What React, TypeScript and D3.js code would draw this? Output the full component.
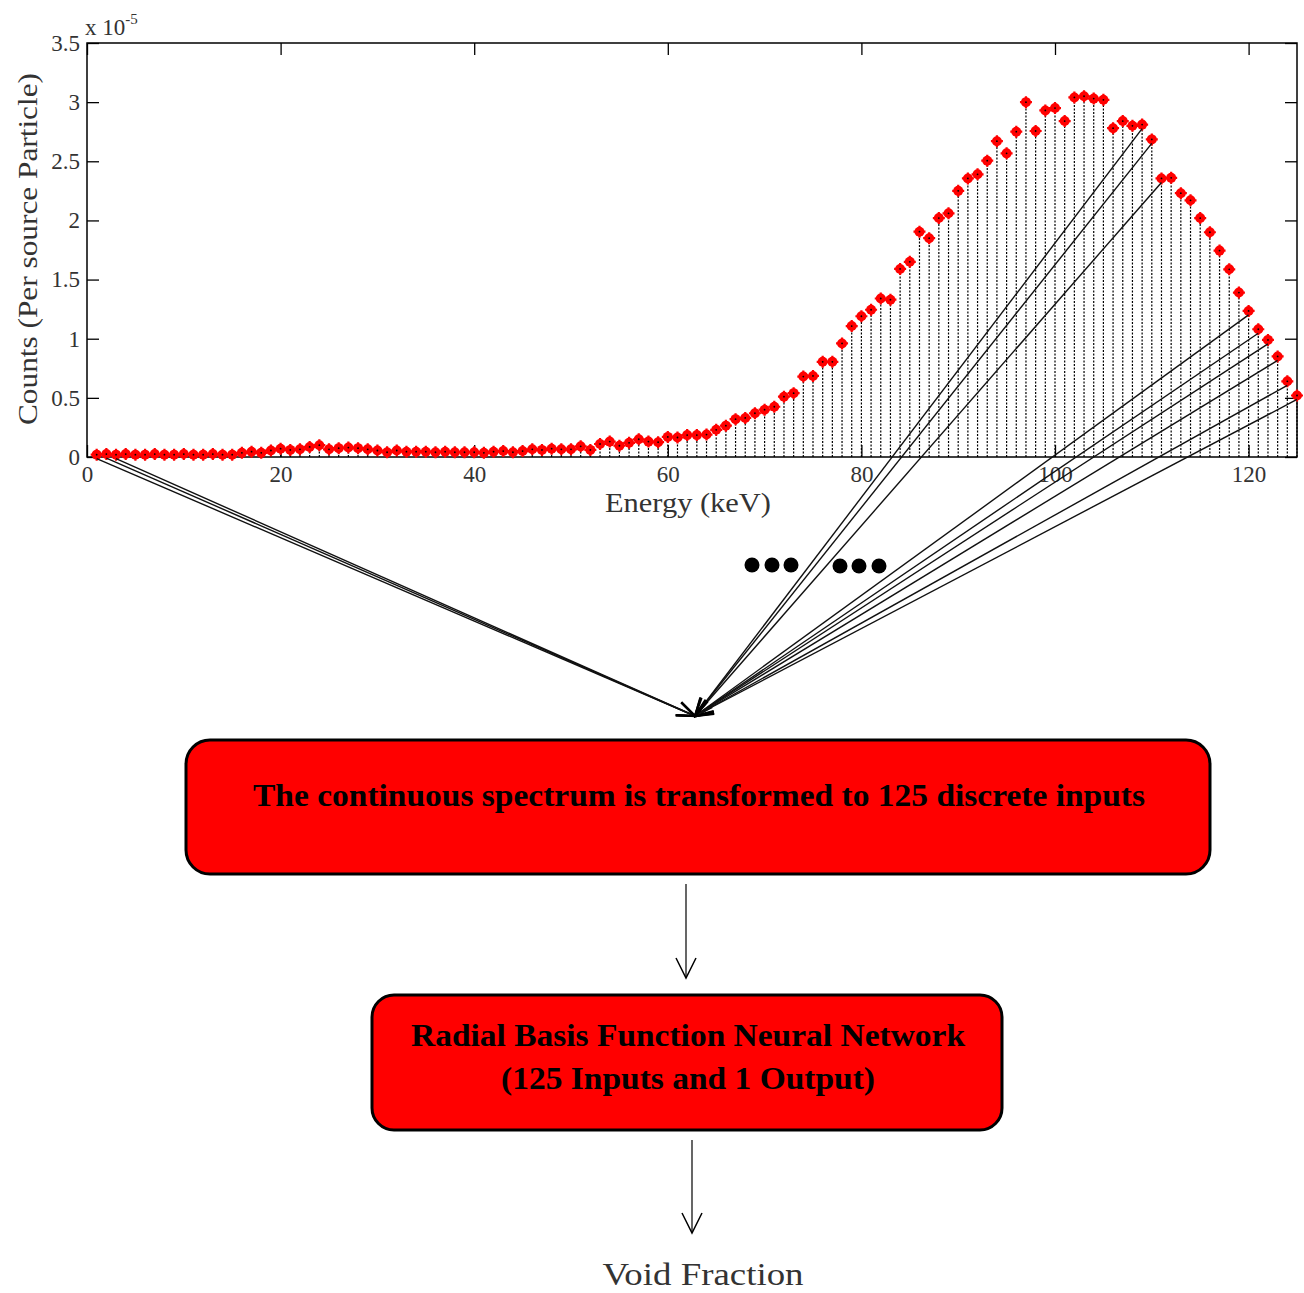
import React, { useRef, useEffect } from "react";
import * as d3 from "d3";

// counts per source particle (x 10^-5), one bin per keV from 1 to 125
const counts = [
  0.02, 0.025, 0.02, 0.025, 0.02, 0.02, 0.025, 0.02, 0.02, 0.025,
  0.02, 0.02, 0.025, 0.02, 0.02, 0.035, 0.045, 0.035, 0.055, 0.07,
  0.06, 0.065, 0.085, 0.1, 0.065, 0.075, 0.08, 0.075, 0.065, 0.055,
  0.04, 0.055, 0.045, 0.045, 0.045, 0.04, 0.045, 0.04, 0.04, 0.04,
  0.035, 0.045, 0.05, 0.04, 0.05, 0.065, 0.06, 0.07, 0.065, 0.065,
  0.09, 0.06, 0.11, 0.13, 0.095, 0.12, 0.15, 0.13, 0.125, 0.17,
  0.165, 0.185, 0.185, 0.19, 0.23, 0.265, 0.32, 0.33, 0.37, 0.4,
  0.425, 0.51, 0.54, 0.68, 0.685, 0.805, 0.805, 0.96, 1.107, 1.19,
  1.245, 1.34, 1.33, 1.59, 1.65, 1.905, 1.85, 2.02, 2.06, 2.25,
  2.355, 2.39, 2.505, 2.67, 2.567, 2.75, 3.0, 2.756, 2.93, 2.95,
  2.84, 3.04, 3.05, 3.03, 3.02, 2.78, 2.84, 2.8, 2.81, 2.685,
  2.355, 2.36, 2.23, 2.17, 2.02, 1.9, 1.745, 1.587, 1.39, 1.235,
  1.08, 0.99, 0.85, 0.64, 0.52,
];
const xTicks = [0, 20, 40, 60, 80, 100, 120];
const yTicks = [0, 0.5, 1, 1.5, 2, 2.5, 3, 3.5];
// bins whose points are wired to the network input
const wiredBins = [1, 2, 3, 109, 110, 111, 120, 121, 122, 123, 124, 125];

const boxText1 = "The continuous spectrum is transformed to 125 discrete inputs";
const boxText2 = ["Radial Basis Function Neural Network", "(125 Inputs and 1 Output)"];
const boxText2Width = [554, 374];
const outputLabel = "Void Fraction";

const FONT = "'Liberation Serif', 'Times New Roman', serif";

const App: React.FC = () => {
  const svgRef = useRef<SVGSVGElement | null>(null);

  useEffect(() => {
    if (!svgRef.current) return;
    const svg = d3.select(svgRef.current);
    svg.selectAll("*").remove();

    const left = 87, right = 1297, top = 43, bottom = 457;
    const x = d3.scaleLinear().domain([0, 125]).range([left, right]);
    const y = d3.scaleLinear().domain([0, 3.5]).range([bottom, top]);
    const data = counts.map((v, i) => ({ e: i + 1, v }));

    const defs = svg.append("defs");
    defs
      .append("marker")
      .attr("id", "vhead")
      .attr("viewBox", "-22 -11 24 22")
      .attr("refX", 0)
      .attr("refY", 0)
      .attr("markerWidth", 24)
      .attr("markerHeight", 22)
      .attr("markerUnits", "userSpaceOnUse")
      .attr("orient", "auto")
      .append("path")
      .attr("d", "M-20,-10 L0,0 L-20,10")
      .attr("fill", "none")
      .attr("stroke", "#000")
      .attr("stroke-width", 1.5);
    defs
      .append("marker")
      .attr("id", "shead")
      .attr("viewBox", "-20 -9 22 18")
      .attr("refX", 0)
      .attr("refY", 0)
      .attr("markerWidth", 22)
      .attr("markerHeight", 18)
      .attr("markerUnits", "userSpaceOnUse")
      .attr("orient", "auto")
      .append("path")
      .attr("d", "M-18,-7 L0,0 L-18,7")
      .attr("fill", "none")
      .attr("stroke", "#000")
      .attr("stroke-width", 2.2);

    // stems
    svg
      .append("g")
      .selectAll("line")
      .data(data)
      .enter()
      .append("line")
      .attr("x1", (d) => x(d.e))
      .attr("x2", (d) => x(d.e))
      .attr("y1", y(0))
      .attr("y2", (d) => y(d.v))
      .attr("stroke", "#000")
      .attr("stroke-width", 1.2)
      .attr("stroke-dasharray", "2,1.5");

    // axes box
    const fmt = (d: d3.NumberValue) => String(d);
    const bx = svg
      .append("g")
      .attr("transform", `translate(0,${bottom})`)
      .call(d3.axisBottom(x).tickValues(xTicks).tickSize(-12).tickSizeOuter(0).tickPadding(9).tickFormat(fmt));
    const by = svg
      .append("g")
      .attr("transform", `translate(${left},0)`)
      .call(d3.axisLeft(y).tickValues(yTicks).tickSize(-12).tickSizeOuter(0).tickPadding(7).tickFormat(fmt));
    svg
      .append("g")
      .attr("transform", `translate(0,${top})`)
      .call(d3.axisTop(x).tickValues(xTicks).tickSize(-12).tickSizeOuter(0).tickFormat(() => ""));
    svg
      .append("g")
      .attr("transform", `translate(${right},0)`)
      .call(d3.axisRight(y).tickValues(yTicks).tickSize(-12).tickSizeOuter(0).tickFormat(() => ""));
    svg.selectAll(".domain").remove();
    svg.selectAll(".tick line").attr("stroke", "#000").attr("stroke-width", 1.3);
    [bx, by].forEach((g) =>
      g
        .selectAll("text")
        .style("font-family", FONT)
        .style("font-size", "23px")
        .attr("fill", "#333")
    );
    svg
      .append("rect")
      .attr("x", left)
      .attr("y", top)
      .attr("width", right - left)
      .attr("height", bottom - top)
      .attr("fill", "none")
      .attr("stroke", "#000")
      .attr("stroke-width", 1.5);

    // exponent
    const ex = svg
      .append("text")
      .attr("x", 85)
      .attr("y", 35)
      .style("font-family", FONT)
      .style("font-size", "23px")
      .attr("fill", "#333");
    ex.append("tspan").text("x 10");
    ex.append("tspan").attr("dy", -11).style("font-size", "15px").text("-5");

    // axis titles
    svg
      .append("text")
      .attr("x", 688)
      .attr("y", 512)
      .attr("text-anchor", "middle")
      .attr("textLength", 166)
      .attr("lengthAdjust", "spacingAndGlyphs")
      .style("font-family", FONT)
      .style("font-size", "27px")
      .attr("fill", "#333")
      .text("Energy (keV)");
    svg
      .append("text")
      .attr("transform", "translate(37,249) rotate(-90)")
      .attr("text-anchor", "middle")
      .attr("textLength", 352)
      .attr("lengthAdjust", "spacingAndGlyphs")
      .style("font-family", FONT)
      .style("font-size", "27px")
      .attr("fill", "#333")
      .text("Counts (Per source Particle)");

    // markers
    const pts = svg
      .append("g")
      .selectAll("g")
      .data(data)
      .enter()
      .append("g")
      .attr("transform", (d) => `translate(${x(d.e)},${y(d.v)})`);
    pts.append("circle").attr("r", 5).attr("fill", "#ff0000");
    pts
      .append("path")
      .attr("d", "M-6,0H6M0,-6V6")
      .attr("stroke", "#ff0000")
      .attr("stroke-width", 2.2);
    pts.append("circle").attr("r", 0.9).attr("fill", "#000");

    // wires to the network input
    const tipX = 695, tipY = 716;
    svg
      .append("g")
      .selectAll("line")
      .data(data.filter((d) => wiredBins.includes(d.e)))
      .enter()
      .append("line")
      .attr("x1", (d) => x(d.e))
      .attr("y1", (d) => y(d.v) + 4)
      .attr("x2", tipX)
      .attr("y2", tipY)
      .attr("stroke", "#111")
      .attr("stroke-width", 1.4)
      .attr("marker-end", "url(#shead)");

    // ellipsis dots
    [752, 772, 791, 840, 859, 879].forEach((cx, i) => {
      svg
        .append("circle")
        .attr("cx", cx)
        .attr("cy", i < 3 ? 565 : 566)
        .attr("r", 7.5)
        .attr("fill", "#000");
    });

    // boxes
    svg
      .append("rect")
      .attr("x", 186)
      .attr("y", 740)
      .attr("width", 1024)
      .attr("height", 134)
      .attr("rx", 24)
      .attr("fill", "#ff0000")
      .attr("stroke", "#000")
      .attr("stroke-width", 3);
    svg
      .append("text")
      .attr("x", 699)
      .attr("y", 806)
      .attr("text-anchor", "middle")
      .attr("textLength", 892)
      .attr("lengthAdjust", "spacingAndGlyphs")
      .style("font-family", FONT)
      .style("font-weight", "bold")
      .style("font-size", "31px")
      .attr("fill", "#000")
      .text(boxText1);

    svg
      .append("line")
      .attr("x1", 686)
      .attr("y1", 884)
      .attr("x2", 686)
      .attr("y2", 978)
      .attr("stroke", "#000")
      .attr("stroke-width", 1.2)
      .attr("marker-end", "url(#vhead)");

    svg
      .append("rect")
      .attr("x", 372)
      .attr("y", 995)
      .attr("width", 630)
      .attr("height", 135)
      .attr("rx", 22)
      .attr("fill", "#ff0000")
      .attr("stroke", "#000")
      .attr("stroke-width", 3);
    boxText2.forEach((t, i) => {
      svg
        .append("text")
        .attr("x", 688)
        .attr("y", 1046 + i * 43)
        .attr("text-anchor", "middle")
        .attr("textLength", boxText2Width[i])
        .attr("lengthAdjust", "spacingAndGlyphs")
        .style("font-family", FONT)
        .style("font-weight", "bold")
        .style("font-size", "31px")
        .attr("fill", "#000")
        .text(t);
    });

    svg
      .append("line")
      .attr("x1", 692)
      .attr("y1", 1140)
      .attr("x2", 692)
      .attr("y2", 1233)
      .attr("stroke", "#000")
      .attr("stroke-width", 1.2)
      .attr("marker-end", "url(#vhead)");

    svg
      .append("text")
      .attr("x", 703)
      .attr("y", 1285)
      .attr("text-anchor", "middle")
      .attr("textLength", 201)
      .attr("lengthAdjust", "spacingAndGlyphs")
      .style("font-family", FONT)
      .style("font-size", "31px")
      .attr("fill", "#333")
      .text(outputLabel);
  }, []);

  return (
    <svg
      ref={svgRef}
      width={1304}
      height={1293}
      style={{ position: "absolute", left: 0, top: 0, background: "#fff" }}
    />
  );
};

export default App;
